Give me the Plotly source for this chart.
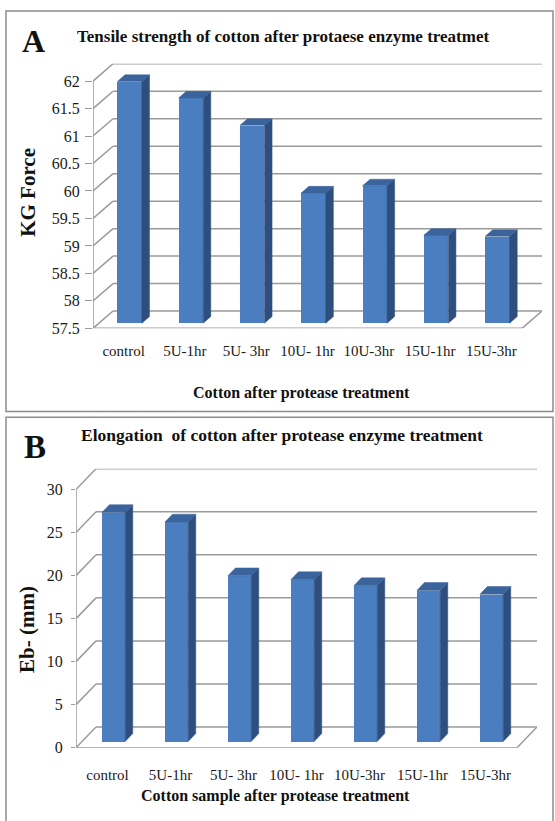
import plotly.graph_objects as go

# ---------------- data ----------------
categories = ["control", "5U-1hr", "5U- 3hr", "10U- 1hr", "10U-3hr", "15U-1hr", "15U-3hr"]
tensile_kg = [61.9, 61.6, 61.1, 59.87, 60.0, 59.1, 59.08]
elongation_mm = [26.6, 25.5, 19.25, 18.8, 18.1, 17.55, 17.1]
tensile_ticks = [57.5, 58, 58.5, 59, 59.5, 60, 60.5, 61, 61.5, 62]
elong_ticks = [0, 5, 10, 15, 20, 25, 30]

title_a = "Tensile strength of cotton after protaese enzyme treatmet"
title_b = "Elongation  of cotton after protease enzyme treatment"
xtitle_a = "Cotton after protease treatment"
xtitle_b = "Cotton sample after protease treatment"
ytitle_a = "KG Force"
ytitle_b = "Eb- (mm)"

# ---------------- style / layout ----------------
W, H = 555, 821
FONT = '"Liberation Serif", "Times New Roman", Times, serif'
FRONT = "#4A7EC0"
SIDE = "#2E4F7E"
TOP = "#3B639C"
GRID = "#9A9A9A"
BORDER = "#8C8C8C"

def py(p):
    return 1 - p / H

def px(p):
    return p / W

panels = [
    dict(ax="", left=93, right=522, bottom=332, top=82, ddx_px=20, ddy_px=17.5,
         vmin=57.5, vmax=62, ticks=tensile_ticks, values=tensile_kg, bw=0.40,
         ticklen=7, standoff=2, xticklen=9),
    dict(ax="2", left=76, right=517, bottom=756, top=495, ddx_px=20, ddy_px=21,
         vmin=0, vmax=30, ticks=elong_ticks, values=elongation_mm, bw=0.37,
         ticklen=4, standoff=5, xticklen=13),
]

fig = go.Figure()
layout_axes = {}
shapes = []
n = len(categories)
F0, DEPTH = 0.30, 0.38  # bar front depth fraction, bar depth fraction

def seg(xa, ya, x0, y0, x1, y1):
    return dict(type="line", xref=xa, yref=ya, x0=x0, y0=y0, x1=x1, y1=y1,
                line=dict(color=GRID, width=1.5), layer="below")

for p in panels:
    slot = (p["right"] - p["left"]) / n
    upx = (p["bottom"] - p["top"]) / (p["vmax"] - p["vmin"])
    ddx = p["ddx_px"] / slot
    ddy = p["ddy_px"] / upx
    xr = [-0.5, n - 0.5 + ddx]
    yr = [p["vmin"], p["vmax"] + ddy]
    xa, ya = "x" + p["ax"], "y" + p["ax"]

    # back-wall grid lines, left diagonals, floor, front vertical axis
    for t in p["ticks"]:
        shapes.append(seg(xa, ya, -0.5, t, -0.5 + ddx, t + ddy))
        shapes.append(seg(xa, ya, -0.5 + ddx, t + ddy, n - 0.5 + ddx, t + ddy))
    shapes.append(seg(xa, ya, -0.5, p["vmin"], n - 0.5, p["vmin"]))
    shapes.append(seg(xa, ya, n - 0.5, p["vmin"], n - 0.5 + ddx, p["vmin"] + ddy))
    shapes.append(seg(xa, ya, -0.5, p["vmin"], -0.5, p["ticks"][-1]))

    # bars: front faces
    base = p["vmin"] + F0 * ddy
    fig.add_trace(go.Bar(x=list(range(n)), y=[v - p["vmin"] for v in p["values"]], base=base,
                         width=p["bw"], offset=-p["bw"] / 2 + F0 * ddx,
                         marker=dict(color=FRONT, line=dict(width=0)),
                         showlegend=False, xaxis=xa, yaxis=ya,
                         customdata=p["values"], hovertemplate="%{customdata}<extra></extra>"))
    # side and top faces
    sx, sy, tx, ty = [], [], [], []
    for i, v in enumerate(p["values"]):
        xl = i - p["bw"] / 2 + F0 * ddx
        xrr = xl + p["bw"]
        top = v + F0 * ddy
        dx, dy = DEPTH * ddx, DEPTH * ddy
        sx += [xrr, xrr + dx, xrr + dx, xrr, xrr, None]
        sy += [base, base + dy, top + dy, top, base, None]
        tx += [xl, xrr, xrr + dx, xl + dx, xl, None]
        ty += [top, top, top + dy, top + dy, top, None]
    fig.add_trace(go.Scatter(x=sx, y=sy, mode="lines", fill="toself", fillcolor=SIDE,
                             line=dict(width=0.5, color=SIDE), hoverinfo="skip",
                             showlegend=False, xaxis=xa, yaxis=ya))
    fig.add_trace(go.Scatter(x=tx, y=ty, mode="lines", fill="toself", fillcolor=TOP,
                             line=dict(width=0.5, color=TOP), hoverinfo="skip",
                             showlegend=False, xaxis=xa, yaxis=ya))

    layout_axes["xaxis" + p["ax"]] = dict(
        domain=[px(p["left"]), px(p["right"] + p["ddx_px"])], range=xr,
        anchor=ya, tickmode="array", tickvals=list(range(n)), ticktext=categories,
        ticks="outside", ticklen=p["xticklen"], tickcolor="rgba(0,0,0,0)",
        showgrid=False, zeroline=False, showline=False,
        tickfont=dict(family=FONT, size=15, color="#1a1a1a"), fixedrange=True)
    layout_axes["yaxis" + p["ax"]] = dict(
        domain=[py(p["bottom"]), py(p["top"] - p["ddy_px"])], range=yr,
        anchor=xa, tickmode="array", tickvals=p["ticks"], ticktext=[f"{t:g}" for t in p["ticks"]],
        ticks="outside", ticklen=p["ticklen"], tickcolor=GRID, tickwidth=1.4,
        ticklabelstandoff=p["standoff"],
        showgrid=False, zeroline=False, showline=False,
        tickfont=dict(family=FONT, size=16, color="#1a1a1a"), fixedrange=True)

def ann(text, x, y, size, bold=True, angle=0):
    return dict(text=f"<b>{text}</b>" if bold else text, x=px(x), y=py(y), xref="paper", yref="paper",
                showarrow=False, xanchor="center", yanchor="middle", textangle=angle,
                font=dict(family=FONT, size=size, color="#111"))

annotations = [
    ann("A", 33, 41, 32),
    ann(title_a, 283, 37, 17),
    ann(xtitle_a, 301, 397, 16),
    ann(ytitle_a, 28, 195, 21, angle=-90),
    ann("B", 35, 452, 33),
    ann(title_b, 282, 440, 17.5),
    ann(xtitle_b, 275, 805, 16),
    ann(ytitle_b, 27, 637, 21, angle=-90),
]

shapes += [
    dict(type="rect", xref="paper", yref="paper", x0=px(6), x1=px(553), y0=py(416), y1=py(11),
         line=dict(color=BORDER, width=1.5), layer="below"),
    dict(type="rect", xref="paper", yref="paper", x0=px(6), x1=px(553), y0=py(835), y1=py(422),
         line=dict(color=BORDER, width=1.5), layer="below"),
]

fig.update_layout(width=W, height=H, margin=dict(l=0, r=0, t=0, b=0), autosize=False,
                  paper_bgcolor="white", plot_bgcolor="rgba(0,0,0,0)", bargap=0,
                  font=dict(family=FONT),
                  annotations=annotations, shapes=shapes, showlegend=False, **layout_axes)

fig.write_html("out.html")
